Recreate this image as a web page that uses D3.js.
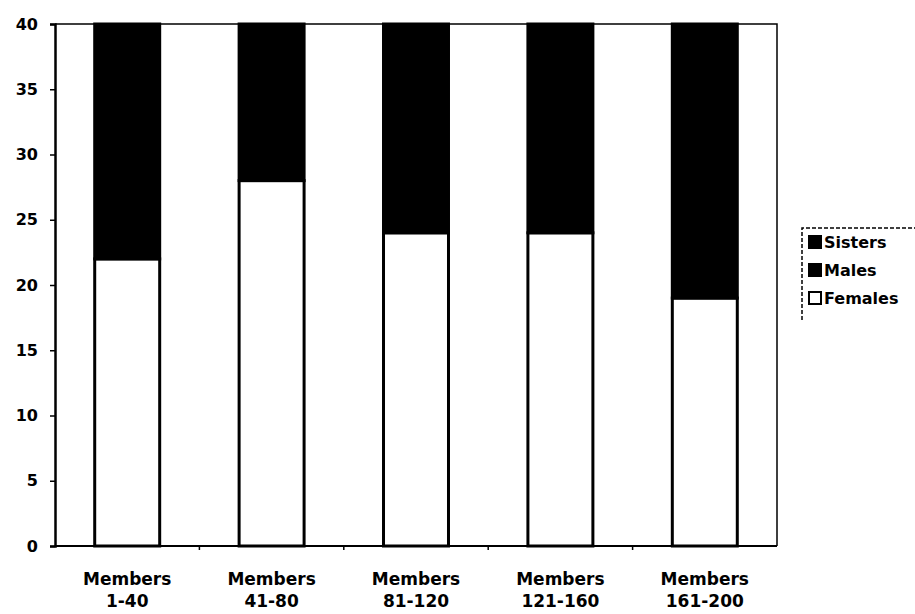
<!DOCTYPE html>
<html>
<head>
<meta charset="utf-8">
<script src="https://cdn.jsdelivr.net/npm/d3@7"></script>
<style>
  body { margin: 0; background: #fff; }
  text { font-family: "DejaVu Sans", "Liberation Sans", Arial, sans-serif; font-weight: bold; }
</style>
</head>
<body>
<div id="chart"></div>
<script>
// Data
const groups = ["1-40", "41-80", "81-120", "121-160", "161-200"];
const females = [22, 28, 24, 24, 19];
const males = [18, 12, 16, 16, 21];
const sisters = [0, 0, 0, 0, 0];
const yTicks = [0, 5, 10, 15, 20, 25, 30, 35, 40];
const seriesNames = ["Females", "Males", "Sisters"];

const width = 915, height = 614;
const margin = { top: 24, right: 138, bottom: 68, left: 55 };

const svg = d3.select("#chart").append("svg")
  .attr("width", width)
  .attr("height", height);

const rows = groups.map((g, i) => ({ group: g, Females: females[i], Males: males[i], Sisters: sisters[i] }));
const stacked = d3.stack().keys(seriesNames)(rows);

const x = d3.scaleBand()
  .domain(groups)
  .range([margin.left, width - margin.right])
  .paddingInner(0.55)
  .paddingOuter(0.275);

const y = d3.scaleLinear()
  .domain([0, 40])
  .range([height - margin.bottom, margin.top]);

const fills = { Females: "#fff", Males: "#000", Sisters: "#000" };

// plot frame (top + right)
svg.append("path")
  .attr("d", `M${margin.left},${margin.top}H${width - margin.right}V${height - margin.bottom}`)
  .attr("fill", "none")
  .attr("stroke", "#000")
  .attr("stroke-width", 1.5);

// bars
svg.selectAll("g.series")
  .data(stacked)
  .enter()
  .append("g")
  .attr("class", "series")
  .selectAll("rect")
  .data(d => d.map(v => ({ key: d.key, v })))
  .enter()
  .append("rect")
  .attr("x", d => x(d.v.data.group))
  .attr("width", x.bandwidth())
  .attr("y", d => y(d.v[1]))
  .attr("height", d => y(d.v[0]) - y(d.v[1]))
  .attr("fill", d => fills[d.key])
  .attr("stroke", "#000")
  .attr("stroke-width", 3);

// y axis
const yAxis = svg.append("g")
  .attr("transform", `translate(${margin.left},0)`)
  .call(d3.axisLeft(y).tickValues(yTicks).tickSize(5).tickPadding(12));
yAxis.select(".domain").attr("stroke-width", 2.5);
yAxis.selectAll(".tick line").attr("stroke-width", 1.5);
yAxis.selectAll("text").style("font-size", "16px").attr("fill", "#000");

// x axis
const xAxis = svg.append("g")
  .attr("transform", `translate(0,${height - margin.bottom})`);
xAxis.append("line")
  .attr("x1", margin.left).attr("x2", width - margin.right)
  .attr("stroke", "#000").attr("stroke-width", 2);
const step = x.step();
xAxis.selectAll("line.tick")
  .data(groups.slice(1))
  .enter()
  .append("line")
  .attr("class", "tick")
  .attr("x1", d => x(d) - step * 0.275)
  .attr("x2", d => x(d) - step * 0.275)
  .attr("y1", 0).attr("y2", 4)
  .attr("stroke", "#000").attr("stroke-width", 1.5);

const labels = xAxis.selectAll("text.cat")
  .data(groups)
  .enter()
  .append("text")
  .attr("class", "cat")
  .attr("x", d => x(d) + x.bandwidth() / 2)
  .attr("text-anchor", "middle")
  .style("font-size", "17px")
  .attr("fill", "#000");
labels.append("tspan").attr("x", d => x(d) + x.bandwidth() / 2).attr("y", 39).text("Members");
labels.append("tspan").attr("x", d => x(d) + x.bandwidth() / 2).attr("y", 61).text(d => d);

// legend
const legend = svg.append("g").attr("transform", "translate(802,228)");
legend.append("path")
  .attr("d", "M0,92V0H120")
  .attr("fill", "none")
  .attr("stroke", "#000")
  .attr("stroke-width", 1.5)
  .attr("stroke-dasharray", "4,2");
const legendItems = ["Sisters", "Males", "Females"];
legendItems.forEach((name, i) => {
  const g = legend.append("g").attr("transform", `translate(7,${8 + i * 28})`);
  g.append("rect")
    .attr("width", 12).attr("height", 12)
    .attr("fill", fills[name])
    .attr("stroke", "#000").attr("stroke-width", 2);
  g.append("text")
    .attr("x", 15).attr("y", 12)
    .style("font-size", "16px")
    .attr("fill", "#000")
    .text(name);
});
</script>
</body>
</html>
